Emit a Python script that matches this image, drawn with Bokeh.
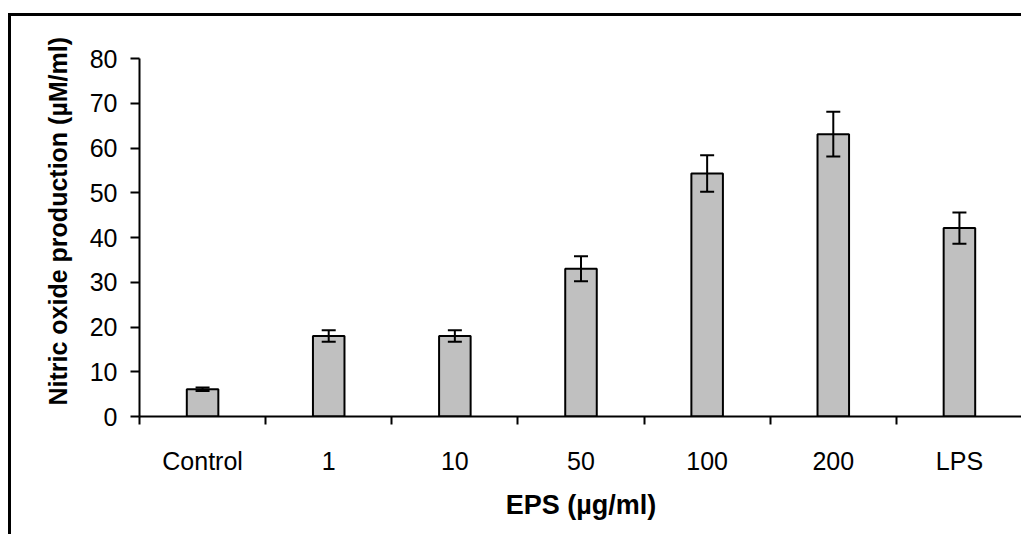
from bokeh.plotting import figure
from bokeh.models import ColumnDataSource, Whisker, FixedTicker, Title
from bokeh.embed import file_html
from bokeh.resources import INLINE

categories = ["Control", "1", "10", "50", "100", "200", "LPS"]
values = [6.1, 18.0, 18.0, 33.0, 54.3, 63.1, 42.1]
errors = [0.4, 1.3, 1.3, 2.8, 4.1, 5.0, 3.5]
y_ticks = [0, 10, 20, 30, 40, 50, 60, 70, 80]

xs = [i + 0.5 for i in range(len(categories))]
src = ColumnDataSource(dict(
    x=xs, top=values,
    upper=[v + e for v, e in zip(values, errors)],
    lower=[v - e for v, e in zip(values, errors)],
))

FONT = "Liberation Sans"

p = figure(width=1013, height=521, output_backend="svg", toolbar_location=None,
           x_range=(0, len(categories)), y_range=(0, 80),
           min_border_left=128, min_border_right=2, min_border_top=42, min_border_bottom=121)
p.styles = {"border-left": "3px solid black", "border-top": "3px solid black",
            "margin-top": "13px", "margin-left": "8px"}
p.outline_line_color = None
p.grid.grid_line_color = None
p.background_fill_color = "white"
p.border_fill_color = "white"

p.vbar(x="x", top="top", width=0.25, bottom=0, source=src,
       fill_color="#c0c0c0", line_color="black", line_width=2)
w = Whisker(base="x", upper="upper", lower="lower", source=src,
            line_color="black", line_width=2, level="annotation")
w.upper_head.size = 14
w.lower_head.size = 14
w.upper_head.line_width = 2
w.lower_head.line_width = 2
p.add_layout(w)

# x axis
xa = p.xaxis[0]
xa.ticker = FixedTicker(ticks=xs, minor_ticks=list(range(len(categories) + 1)))
xa.major_label_overrides = {x: c for x, c in zip(xs, categories)}
xa.major_tick_out = 0
xa.major_tick_in = 0
xa.minor_tick_out = 8
xa.minor_tick_in = 0
xa.minor_tick_line_width = 2
xa.minor_tick_line_color = "black"
xa.axis_line_width = 2
xa.axis_line_color = "black"
xa.major_label_text_font = FONT
xa.major_label_text_font_size = "25px"
xa.major_label_text_color = "black"
xa.major_label_standoff = 22
xa.axis_label = "EPS (µg/ml)"
xa.axis_label_text_font = FONT
xa.axis_label_text_font_size = "27px"
xa.axis_label_text_font_style = "bold"
xa.axis_label_text_color = "black"
xa.axis_label_standoff = 12

ya = p.yaxis[0]
ya.ticker = FixedTicker(ticks=y_ticks)
ya.minor_tick_line_color = None
ya.major_tick_out = 9
ya.major_tick_in = 0
ya.major_tick_line_width = 2
ya.major_tick_line_color = "black"
ya.axis_line_width = 2
ya.axis_line_color = "black"
ya.major_label_text_font = FONT
ya.major_label_text_font_size = "25px"
ya.major_label_text_color = "black"
ya.major_label_standoff = 13

ytitle = Title(text="Nitric oxide production (µM/ml)", align="left", offset=11,
               text_font=FONT, text_font_size="25px", text_font_style="bold",
               text_color="black", standoff=30)
p.add_layout(ytitle, "left")

open("out.html", "w").write(file_html(p, INLINE))
